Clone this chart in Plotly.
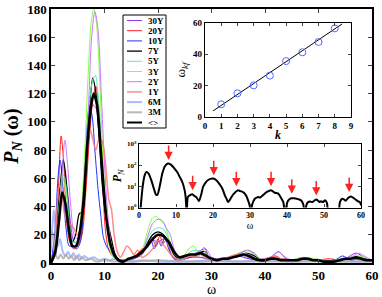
import plotly.graph_objects as go
import math

# ---------------- main panel data (omega, P_N) ----------------
names = ["30Y", "20Y", "10Y", "7Y", "5Y", "3Y", "2Y", "1Y", "6M", "3M", "<>"]
colors = ["#9933ff", "#ff1a1a", "#2233ff", "#000000", "#55eebb", "#88ff44",
          "#cc77ff", "#ff7777", "#99aaff", "#aaaaaa", "#000000"]
widths = [1, 1, 1, 1.3, 1, 1, 1, 1.5, 2, 2, 2.6]
opac = [1, 1, 1, 1, 1, 1, 1, 0.85, 0.8, 0.8, 1]

w_30Y = [0, 0.8, 1.5, 2.2, 2.9, 3.6, 4.3, 5.0, 5.7, 6.4, 7.1, 7.8, 8.4, 9.0, 9.6, 10.2, 10.9, 11.6, 12.5, 13.5, 15, 16, 17, 18, 19, 20, 21, 22, 22.8, 23.5, 25, 26.5, 28, 28.8, 29.5, 31, 33, 35, 36.5, 38, 39, 41, 42.5, 44, 46, 48, 50, 52, 54, 55, 57, 58.5, 60]
p_30Y = [0, 5, 30, 60, 55, 30, 15, 14, 22, 50, 90, 112, 110, 90, 60, 35, 18, 8, 3, 2, 3, 5, 7, 12, 16, 15, 17, 14, 8, 3, 3, 6, 9, 10, 5, 3, 4, 6, 9, 7, 3, 4, 8, 3, 2, 3, 2, 1, 2, 3, 7, 4, 2]

w_20Y = [0, 0.8, 1.4, 1.9, 2.4, 2.9, 3.5, 4.2, 5.0, 5.8, 6.5, 7.2, 7.8, 8.4, 9.0, 9.6, 10.2, 10.8, 11.5, 12.5, 13.5, 14.5, 16, 17, 18, 19, 19.7, 20.3, 21, 21.7, 22.3, 23, 24, 26, 27, 28, 29, 30, 32, 34, 35.5, 37, 39, 40.5, 42, 43, 45, 47, 49, 52, 54, 56, 58, 60]
p_20Y = [0, 10, 55, 90, 70, 30, 15, 10, 12, 20, 50, 90, 115, 125, 105, 60, 22, 9, 5, 3, 2, 3, 6, 10, 12, 16, 12, 19, 14, 17, 8, 3, 2, 4, 5, 7, 4, 2, 3, 4, 6, 4, 2, 3, 5, 3, 2, 4, 2, 3, 2, 3, 2, 1]

w_10Y = [0, 0.7, 1.3, 1.7, 2.2, 2.8, 3.4, 4.0, 4.8, 5.5, 6.2, 6.8, 7.2, 7.7, 8.2, 8.8, 9.3, 9.8, 10.5, 11.2, 12, 13, 14, 15, 16, 17, 18, 18.7, 19.3, 20, 20.6, 21.3, 22, 23, 24, 26, 28, 30, 32, 35, 37, 40, 42, 45, 48, 50, 53, 54.5, 56, 58, 60]
p_10Y = [0, 20, 60, 73, 55, 25, 12, 12, 10, 15, 50, 100, 112, 104, 80, 52, 34, 18, 11, 8, 4, 2, 2, 3, 4, 6, 12, 16, 10, 17, 12, 18, 10, 3, 2, 4, 4, 2, 3, 5, 3, 2, 3, 2, 3, 2, 2, 5, 2, 3, 2]

w_7Y = [0, 0.8, 1.5, 2.3, 2.8, 3.3, 4.0, 4.6, 5.3, 5.9, 6.5, 7.2, 7.8, 8.4, 9.0, 9.6, 10.2, 10.8, 11.4, 12, 12.8, 13.5, 14.5, 16, 17, 18, 19, 20, 21, 22, 23, 24, 25, 26, 27, 28, 28.8, 29.5, 31, 33, 35, 36.5, 38, 39.5, 41, 43, 45, 47, 49, 51, 53, 55, 57, 58.5, 60]
p_7Y = [0, 12, 45, 73, 60, 35, 15, 20, 35, 36, 65, 110, 131, 120, 90, 55, 35, 25, 15, 6, 2, 1, 2, 4, 7, 14, 20, 22, 20, 14, 6, 3, 4, 6, 6, 8, 8, 4, 2, 3, 5, 7, 5, 2, 3, 3, 2, 3, 2, 1, 2, 3, 4, 3, 2]

w_5Y = [0, 0.8, 1.5, 2.2, 2.8, 3.4, 4.1, 4.8, 5.5, 6.2, 7.0, 7.7, 8.3, 8.9, 9.5, 10.1, 10.7, 11.4, 12.3, 13.3, 14.5, 16, 17, 18, 19, 20, 21, 22, 23, 24, 25, 26, 27, 28, 29, 30, 32, 34, 35.5, 37, 38.5, 40, 42, 44, 46, 48, 50, 52, 54, 56, 57.5, 59, 60]
p_5Y = [0, 10, 40, 63, 55, 30, 15, 15, 28, 60, 105, 128, 133, 115, 80, 45, 20, 8, 3, 1, 2, 5, 8, 17, 23, 25, 24, 17, 8, 3, 4, 8, 9, 8, 4, 2, 3, 5, 7, 6, 3, 2, 4, 2, 3, 4, 2, 1, 3, 3, 5, 2, 2]

w_3Y = [0, 0.8, 1.5, 2.2, 2.8, 3.4, 4.1, 4.8, 5.5, 6.2, 6.9, 7.5, 8.0, 8.5, 9.1, 9.7, 10.3, 10.9, 11.6, 12.5, 13.5, 14.5, 16, 17, 18, 19, 19.7, 20.5, 21.3, 22, 23, 24, 25, 26, 26.7, 27.5, 28.5, 29.5, 31, 33, 35, 36.5, 38, 39.5, 41, 43, 45, 47, 49, 51, 53, 55, 57, 58.5, 60]
p_3Y = [0, 8, 35, 60, 50, 25, 12, 14, 30, 70, 130, 170, 180, 170, 130, 75, 35, 12, 4, 1, 1, 2, 5, 9, 22, 32, 33, 30, 27, 18, 7, 3, 6, 11, 12, 8, 9, 5, 2, 4, 7, 9, 6, 2, 3, 3, 2, 4, 3, 2, 1, 3, 5, 4, 2]

w_2Y = [0, 0.8, 1.5, 2.1, 2.6, 3.1, 3.7, 4.3, 4.9, 5.6, 6.3, 7.0, 7.6, 8.2, 8.8, 9.4, 10.0, 10.6, 11.2, 12, 13, 14, 15, 16, 17, 18, 19, 20, 20.8, 21.5, 22.3, 23, 24, 25, 26, 27, 28, 28.6, 29.4, 30.2, 32, 34, 36, 37, 38.2, 39.5, 41, 42.5, 43.5, 45, 47, 49, 51, 53, 55, 56.5, 57.5, 59, 60]
p_2Y = [0, 6, 30, 65, 87, 70, 40, 20, 17, 25, 55, 110, 160, 178, 165, 120, 70, 35, 15, 5, 1, 1, 2, 4, 7, 18, 28, 31, 30, 25, 20, 10, 2, 3, 5, 7, 9, 11, 8, 3, 3, 5, 8, 9, 6, 2, 3, 8, 5, 2, 3, 2, 1, 2, 3, 5, 7, 4, 2]

w_1Y = [0, 0.5, 1.0, 1.5, 2.0, 2.5, 3.0, 3.5, 4.2, 4.9, 5.5, 6.2, 6.8, 7.3, 7.8, 8.4, 9.0, 9.6, 10.2, 10.8, 11.3, 11.8, 12.4, 13, 13.6, 14.2, 14.8, 15.5, 16.2, 17, 18, 19, 20, 21, 22, 23, 24, 26, 27, 28, 29, 31, 33, 35, 37, 39, 41, 43, 45, 47, 49, 51, 53, 55, 57, 59, 60]
p_1Y = [0, 5, 30, 55, 50, 35, 30, 28, 25, 20, 25, 55, 85, 95, 88, 80, 88, 86, 70, 45, 38, 20, 8, 4, 8, 12, 10, 6, 9, 4, 6, 10, 16, 13, 8, 4, 2, 5, 4, 6, 3, 2, 4, 6, 4, 2, 4, 3, 2, 3, 2, 2, 1, 2, 3, 2, 1]

w_6M = [0, 0.5, 0.9, 1.3, 1.7, 2.2, 2.7, 3.2, 3.7, 4.2, 4.7, 5.2, 5.7, 6.2, 7, 8, 9, 10, 11, 12, 13, 14, 15, 17, 20, 25, 30, 35, 40, 45, 50, 55, 60]
p_6M = [8, 38, 20, 12, 17, 8, 5, 8, 4, 7, 3, 6, 3, 5, 3, 4, 2, 3, 2, 3, 1, 2, 1, 2, 1, 1, 2, 1, 2, 1, 2, 1, 1]

w_3M = [0, 0.3, 0.8, 1.3, 1.8, 2.3, 2.8, 3.3, 3.8, 4.3, 4.8, 5.3, 5.8, 6.5, 7.5, 8.5, 10, 12, 15, 20, 25, 30, 40, 50, 60]
p_3M = [20, 22, 8, 3, 6, 3, 6, 3, 5, 2, 5, 2, 4, 2, 3, 1, 2, 1, 1, 2, 1, 1, 1, 1, 1]

w_avg = [0, 0.8, 1.5, 2.1, 2.7, 3.3, 4.0, 4.7, 5.4, 6.1, 6.8, 7.5, 8.0, 8.6, 9.2, 9.8, 10.4, 11.0, 11.8, 12.6, 13.5, 14.5, 16, 17, 18, 19, 20, 21, 22, 23, 24, 25, 26, 27, 28, 29, 30, 31, 32, 33, 34, 35, 36, 37, 38, 39, 40, 41, 42, 43, 44, 45, 46, 47, 48, 49, 50, 51, 52, 53, 54, 55, 56, 57, 58, 59, 60]
p_avg = [0, 8, 30, 50, 42, 25, 12, 12, 22, 45, 85, 112, 120, 112, 85, 55, 30, 15, 6, 2, 1, 3, 5, 8, 12, 17, 20, 19, 15, 8, 4, 5, 6, 6, 7, 5, 3, 2, 3, 3, 4, 5, 6, 5, 3, 2, 2, 3, 3, 2, 2, 2, 2, 3, 3, 2, 2, 1, 1, 1, 2, 3, 3, 4, 3, 2, 2]

series_w = [w_30Y, w_20Y, w_10Y, w_7Y, w_5Y, w_3Y, w_2Y, w_1Y, w_6M, w_3M, w_avg]
series_p = [p_30Y, p_20Y, p_10Y, p_7Y, p_5Y, p_3Y, p_2Y, p_1Y, p_6M, p_3M, p_avg]

# ---------------- top inset: omega_kf vs k ----------------
k_vals = [1, 2, 3, 4, 5, 6, 7, 8]
wkf_vals = [8.1, 15.1, 20.2, 26.4, 35.7, 41.3, 47.9, 56.6]
fit_k = [0.5, 8.45]
fit_w = [3.9, 59.4]

# ---------------- bottom inset: <> spectrum on log scale ----------------
wl = [0.2, 0.6, 1.0, 1.5, 2.0, 2.6, 3.3, 4.0, 4.6, 5.0, 5.6, 6.3, 7.0, 7.8, 8.6, 9.6, 10.4, 11.0, 11.7, 12.3, 12.6, 12.9,
      13.2, 13.8, 14.4, 15.0, 15.5, 16.2, 16.8, 17.3, 18.0, 18.6, 19.3, 20.0, 20.6, 21.1, 21.7, 22.3, 22.8, 23.2, 23.7,
      24.1, 24.5, 25.0, 25.4, 25.9, 26.4, 26.8, 27.3, 27.7, 28.2, 28.6, 29.1, 29.5, 29.9, 30.2, 30.6, 31.3, 31.8, 32.2,
      32.7, 33.1, 33.8, 34.5, 35.0, 35.6, 36.2, 36.7, 37.2, 37.7, 38.4, 39.0, 39.5, 40.1, 40.6, 41.2, 41.9, 42.6, 43.3,
      43.9, 44.4, 44.8, 45.3, 45.7, 46.3, 46.8, 47.4, 47.9, 48.4, 48.8, 49.2, 49.7, 50.3, 50.8, 51.3, 53.8, 54.3, 54.9,
      55.4, 55.9, 56.5, 57.3, 58.0, 58.5, 59.1, 59.7, 60.0]
pl = [0.3, 2.0, 10, 32, 48, 40, 20, 8, 4, 4, 10, 40, 89, 120, 107, 69, 45, 28, 16, 7, 3.2, 0.5,
      3.1, 3.8, 4.2, 3.5, 3.1, 2.0, 4.0, 9.3, 15, 19.5, 22.4, 23.4, 21.4, 17.8, 13.2, 9.3, 6.0, 3.7, 2.5,
      1.8, 2.2, 3.1, 4.0, 5.0, 6.0, 6.5, 6.0, 5.8, 5.2, 4.5, 3.2, 2.1, 1.26, 0.5, 1.4, 2.6, 2.95, 3.1,
      2.95, 3.3, 4.2, 5.4, 5.9, 6.5, 5.8, 5.0, 4.8, 4.5, 2.8, 1.8, 0.5, 1.8, 2.4, 2.75, 2.7, 2.6, 2.4,
      2.1, 1.4, 0.5, 1.4, 1.8, 1.9, 1.8, 2.1, 2.4, 2.1, 1.8, 2.0, 1.8, 2.2, 1.6, 0.5, 0.5, 1.8, 2.6,
      2.4, 2.1, 2.8, 3.3, 2.8, 2.4, 2.0, 1.8, 1.26]
arrow_w = [8.0, 14.5, 20.2, 26.3, 35.7, 41.3, 47.9, 56.8]
arrow_p = [174, 6.5, 33, 10, 10, 4.5, 3.7, 5.4]

FONT = "Liberation Serif"
W, H = 382, 297
ML, MR, MT, MB = 51, 10, 9, 34
PW, PH = W - ML - MR, H - MT - MB


def px(xp):
    return (xp - ML) / PW


def py(yp):
    return (H - MB - yp) / PH


fig = go.Figure()
for n, c, lw, op, wv, pv in zip(names, colors, widths, opac, series_w, series_p):
    fig.add_trace(go.Scatter(x=wv, y=pv, mode="lines", name=n, opacity=op, showlegend=False,
                             line=dict(color=c, width=lw, shape="spline", smoothing=0.8),
                             xaxis="x", yaxis="y"))

fig.add_trace(go.Scatter(x=fit_k, y=fit_w, mode="lines", line=dict(color="black", width=1),
                         showlegend=False, xaxis="x2", yaxis="y2"))
fig.add_trace(go.Scatter(x=k_vals, y=wkf_vals, mode="markers", showlegend=False,
                         marker=dict(symbol="circle-open", size=7, color="#5566ff", line=dict(width=1)),
                         xaxis="x2", yaxis="y2"))
fig.add_trace(go.Scatter(x=wl, y=pl, mode="lines", showlegend=False,
                         line=dict(color="black", width=2, shape="spline", smoothing=0.6),
                         xaxis="x3", yaxis="y3"))

for aw, ap in zip(arrow_w, arrow_p):
    fig.add_annotation(x=aw, y=math.log10(ap), xref="x3", yref="y3", text="", showarrow=True,
                       ax=0, ay=-16, arrowhead=2, arrowsize=1.1, arrowwidth=1.5, arrowcolor="#ff2222")

# ---- compact legend box (drawn with shapes + text) ----
LX0, LX1, LY0, LY1 = 123, 166, 15, 128
fig.add_shape(type="rect", xref="paper", yref="paper", x0=px(LX0), x1=px(LX1), y0=py(LY1), y1=py(LY0),
              line=dict(color="black", width=1), fillcolor="white", layer="above")
for i, (n, c, lw, op) in enumerate(zip(names, colors, widths, opac)):
    yy = 20.5 + i * 10.2
    fig.add_shape(type="line", xref="paper", yref="paper", x0=px(127), x1=px(142), y0=py(yy), y1=py(yy),
                  line=dict(color=c, width=min(lw, 2)), opacity=op, layer="above")
    fig.add_annotation(x=px(146), y=py(yy), xref="paper", yref="paper", text="<b>" + n.replace("<", "&lt;").replace(">", "&gt;") + "</b>",
                       showarrow=False, xanchor="left", yanchor="middle",
                       font=dict(family=FONT, size=9, color="black"))

tb = dict(family=FONT, color="black", weight="bold")
common = dict(showgrid=False, zeroline=False, showline=True, linecolor="black", mirror="ticks",
              ticks="inside", automargin=False)

fig.update_layout(
    width=W, height=H, autosize=False,
    margin=dict(l=ML, r=MR, t=MT, b=MB),
    paper_bgcolor="white", plot_bgcolor="white",
    font=dict(family=FONT, color="black"),
    showlegend=False,
    xaxis=dict(domain=[0, 1], range=[0, 60], dtick=10, linewidth=1.5, ticklen=4,
               tickfont=dict(size=13, **tb),
               title=dict(text="ω", font=dict(size=14, family=FONT), standoff=3), anchor="y", **common),
    yaxis=dict(domain=[0, 1], range=[0, 180], dtick=20, linewidth=1.5, ticklen=4,
               tickfont=dict(size=13, **tb),
               title=dict(text="<b><i>P</i></b><sub><b><i>N</i></b></sub><b> (ω)</b>", font=dict(size=20, family=FONT), standoff=4),
               anchor="x", **common),
    xaxis2=dict(domain=[px(205), px(351)], range=[0, 9], dtick=1, linewidth=1.2, ticklen=3,
                tickfont=dict(size=9, **tb), anchor="y2",
                title=dict(text="<b><i>k</i></b>", font=dict(size=12, family=FONT), standoff=0), **common),
    yaxis2=dict(domain=[py(117), py(23)], range=[0, 60], dtick=20, linewidth=1.2, ticklen=3,
                tickfont=dict(size=9, **tb), anchor="x2",
                title=dict(text="ω<sub><i>kf</i></sub>", font=dict(size=13, family=FONT), standoff=4), **common),
    xaxis3=dict(domain=[px(139), px(361)], range=[0, 60], dtick=10, linewidth=1.2, ticklen=3,
                tickfont=dict(size=8, **tb), anchor="y3",
                title=dict(text="ω", font=dict(size=10, family=FONT), standoff=0), **common),
    yaxis3=dict(domain=[py(207.5), py(144)], type="log", range=[0, 3], linewidth=1.2, ticklen=3,
                tickvals=[1, 10, 100, 1000],
                ticktext=["10<sup>0</sup>", "10<sup>1</sup>", "10<sup>2</sup>", "10<sup>3</sup>"],
                tickfont=dict(size=7, **tb), anchor="x3",
                title=dict(text="<b><i>P</i></b><sub><i>N</i></sub>", font=dict(size=12, family=FONT), standoff=2),
                **common),
)

fig.write_html("out.html", config={"displayModeBar": False},
               post_script="document.body.style.margin='0';document.body.style.overflow='hidden';")
